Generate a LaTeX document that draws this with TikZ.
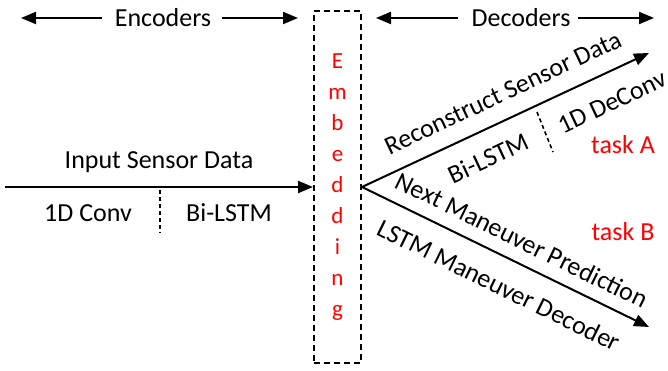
\documentclass[tikz,border=0pt]{standalone}
\usepackage{fontspec}
\setmainfont{Carlito}
\usetikzlibrary{arrows.meta}
\definecolor{tred}{RGB}{255,0,0}
\begin{document}
\begin{tikzpicture}[x=1pt,y=-1pt,
  lbl/.style={font=\fontsize{26}{30}\selectfont, inner sep=0pt},
  redlbl/.style={lbl, text=tred},
  tip/.tip={Triangle[length=15pt,width=12pt]},
  arr/.style={line width=2pt, -tip},
  sepline/.style={line width=1.6pt, dash pattern=on 4pt off 3pt},
  embbox/.style={draw, line width=2pt, dash pattern=on 6pt off 4pt,
    minimum width=47pt, minimum height=352pt, inner sep=0pt,
    text=tred, align=center, font=\fontsize{23}{31}\selectfont}]
\useasboundingbox (0,0) rectangle (668,371);

% header
\node[lbl] (enc) at (163,18) {Encoders};
\coordinate (encLs) at (102,18); \coordinate (encLe) at (21,18);
\coordinate (encRs) at (222,18); \coordinate (encRe) at (298,18);
\draw[arr] (encLs) -- (encLe);
\draw[arr] (encRs) -- (encRe);
\node[lbl] (dec) at (521,18) {Decoders};
\coordinate (decLs) at (458,18); \coordinate (decLe) at (376,18);
\coordinate (decRs) at (578,18); \coordinate (decRe) at (654,18);
\draw[arr] (decLs) -- (decLe);
\draw[arr] (decRs) -- (decRe);

% embedding box
\node[embbox] (emb) at (337.5,187) {E\\m\\b\\e\\d\\d\\i\\n\\g};

% input
\coordinate (in) at (5,187);
\draw[arr] (in) -- (emb.west);
\node[lbl] (inlbl) at (159,162) {Input Sensor Data};
\node[lbl] (conv) at (88,213) {1D Conv};
\node[lbl] (bienc) at (229,213) {Bi-LSTM};
\coordinate (s1a) at (160,190); \coordinate (s1b) at (160,233);
\draw[sepline] (s1a) -- (s1b);

% decoders
\coordinate (tA) at (649,53);
\coordinate (tB) at (649,327);
\draw[arr] (emb.east) -- (tA);
\draw[arr] (emb.east) -- (tB);
\node[lbl, rotate=25.1] (rec) at (503,93) {Reconstruct Sensor Data};
\node[lbl, rotate=25.1] (bidec) at (488,158) {Bi-LSTM};
\node[lbl, rotate=25.1] (deconv) at (612,102) {1D DeConv};
\coordinate (s2a) at (537,112); \coordinate (s2b) at (553,152);
\draw[sepline] (s2a) -- (s2b);
\node[redlbl] (taskA) at (623,145) {task A};
\node[redlbl] (taskB) at (623,232) {task B};
\node[lbl, rotate=-26.1] (next) at (522,240) {Next Maneuver Prediction};
\node[lbl, rotate=-26.1] (lstm) at (499,285) {LSTM Maneuver Decoder};
\end{tikzpicture}
\end{document}
